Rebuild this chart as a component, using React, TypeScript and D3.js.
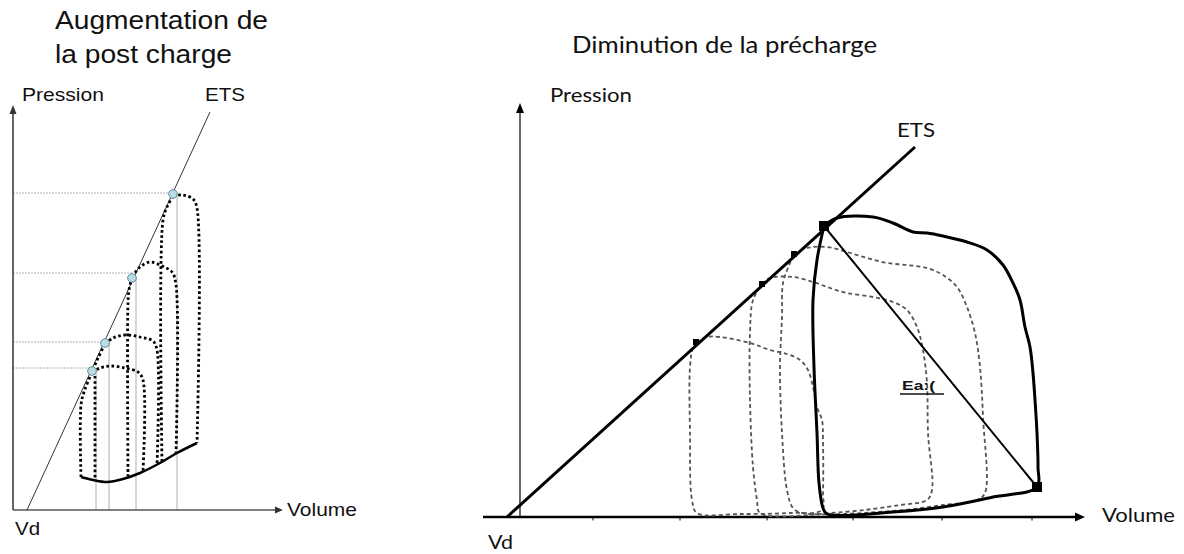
import * as d3 from 'd3';

type Pt = [number, number];

// ---- left panel : augmentation de la post charge ----
const leftEts: Pt[] = [[14, 0], [197, 398]];
const leftEdpvr: Pt[] = [[68, 33], [80, 30], [94, 28], [110, 31], [127, 37], [147, 47], [164, 57], [184, 67]];
const leftEsPoints: Pt[] = [[79, 139], [92, 167], [119, 232], [160, 316]];
const leftGuideV = [83, 96, 123, 164];
const leftGuideP = [142, 168, 237, 317];
const leftLoopSegments: Pt[][] = [
  [[68, 33], [68, 105], [71, 118], [79, 138], [85, 152], [92, 166]],
  [[79, 138], [87, 142], [97, 144], [112, 142], [125, 138], [130, 130], [130, 39]],
  [[82, 134], [82, 30]],
  [[92, 166], [100, 172], [112, 175], [127, 173], [140, 169], [144, 160], [144, 45]],
  [[119, 233], [116, 220], [115, 208], [115, 34]],
  [[119, 233], [127, 243], [137, 248], [149, 244], [159, 238], [163, 225], [163, 56]],
  [[160, 314], [154, 303], [150, 290], [149, 48]],
  [[160, 314], [170, 315], [180, 311], [184, 302], [184, 67]],
];

// ---- right panel : diminution de la précharge ----
const rightEts: Pt[] = [[-13, 0], [395, 370]];
const rightEsPoints: Pt[] = [[176, 175], [242, 233], [274, 263]];
const rightBaseEs: Pt = [304, 291];
const rightBaseEd: Pt = [517, 30];
const rightTicks = [73, 160, 247, 333, 422, 512];
const rightBaseLoop: Pt[] = [
  [304, 291], [317, 299], [353, 300], [373, 294], [393, 285], [407, 284], [423, 281], [447, 275],
  [467, 267], [483, 252], [493, 234], [500, 217], [505, 190], [510, 170], [513, 144], [515, 117],
  [517, 84], [518, 50], [517, 30], [473, 20], [423, 10], [373, 5], [307, 3], [303, 9], [299, 34],
  [297, 84], [294, 150], [293, 217], [297, 257], [304, 291],
];
const rightReducedLoops: Pt[][] = [
  [[176, 175], [187, 180], [200, 180], [230, 174], [250, 167], [267, 163], [280, 157], [288, 147],
   [293, 130], [297, 110], [302, 97], [303, 77], [303, 24], [302, 7], [270, 4], [220, 3], [177, 4],
   [172, 17], [170, 84], [170, 150], [173, 170], [176, 175]],
  [[242, 233], [250, 239], [273, 240], [293, 235], [310, 229], [327, 224], [353, 220], [373, 215],
   [387, 207], [397, 190], [403, 167], [407, 134], [408, 84], [412, 27], [407, 17], [380, 12],
   [323, 5], [240, 4], [237, 17], [233, 50], [230, 117], [230, 184], [233, 217], [242, 233]],
  [[274, 263], [287, 269], [307, 270], [327, 265], [347, 259], [367, 254], [387, 252], [407, 249],
   [423, 242], [437, 230], [447, 210], [455, 184], [460, 150], [463, 100], [465, 24], [457, 17],
   [423, 12], [373, 6], [283, 4], [273, 9], [267, 27], [262, 84], [260, 150], [262, 200],
   [263, 234], [270, 254], [274, 263]],
];

const W = 1184;
const H = 554;

export default function App() {
  const xL = d3.scaleLinear().domain([0, 270]).range([13, 283]);
  const yL = d3.scaleLinear().domain([0, 405]).range([510, 105]);
  const xR = d3.scaleLinear().domain([0, 565]).range([520, 1085]);
  const yR = d3.scaleLinear().domain([0, 414]).range([517, 103]);

  const lineL = d3.line<Pt>().x(d => xL(d[0])).y(d => yL(d[1])).curve(d3.curveCatmullRom.alpha(0.5));
  const straightL = d3.line<Pt>().x(d => xL(d[0])).y(d => yL(d[1]));
  const lineR = d3.line<Pt>().x(d => xR(d[0])).y(d => yR(d[1])).curve(d3.curveCatmullRom.alpha(0.5));
  const straightR = d3.line<Pt>().x(d => xR(d[0])).y(d => yR(d[1]));

  const arial = "'Liberation Sans', Arial, sans-serif";
  const calibri = "Lato, 'Open Sans', sans-serif";

  const x0L = xL(0), y0L = yL(0);
  const x0R = xR(0), y0R = yR(0);

  return (
    <svg width={W} height={H} style={{ position: 'absolute', left: 0, top: 0, background: '#fff' }}>
      {/* ===== left panel ===== */}
      <g>
        <text x={55} y={29} fontFamily={arial} fontSize={25} textLength={213} lengthAdjust="spacingAndGlyphs" fill="#111">Augmentation de</text>
        <text x={55} y={63} fontFamily={arial} fontSize={25} textLength={177} lengthAdjust="spacingAndGlyphs" fill="#111">la post charge</text>

        {/* guides */}
        {leftGuideP.map((p, i) => (
          <line key={'h' + i} x1={x0L} x2={xL(leftEsPoints[i][0])} y1={yL(p)} y2={yL(p)} stroke="#9a9a9a" strokeWidth={0.8} strokeDasharray="2,1" />
        ))}
        {leftGuideV.map((v, i) => (
          <line key={'v' + i} x1={xL(v)} x2={xL(v)} y1={yL(leftEsPoints[i][1])} y2={y0L} stroke="#9a9a9a" strokeWidth={0.8} />
        ))}

        {/* axes */}
        <line x1={x0L} x2={x0L} y1={y0L} y2={yL(400)} stroke="#333" strokeWidth={1.5} />
        <path d={`M${x0L},${yL(405)} l-3.5,9 l7,0 z`} fill="#333" />
        <line x1={x0L} x2={xL(266)} y1={y0L} y2={y0L} stroke="#555" strokeWidth={1.5} />
        <path d={`M${xL(270)},${y0L} l-8,-3.5 l0,7 z`} fill="#333" />

        {/* ETS */}
        <path d={straightL(leftEts) || ''} fill="none" stroke="#333" strokeWidth={1} />

        {/* loops */}
        {leftLoopSegments.map((s, i) => (
          <path key={i} d={lineL(s) || ''} fill="none" stroke="#000" strokeWidth={2.8} strokeDasharray="2.6,2.6" />
        ))}
        <path d={lineL(leftEdpvr) || ''} fill="none" stroke="#000" strokeWidth={2.5} />

        {leftEsPoints.map((p, i) => (
          <circle key={i} cx={xL(p[0])} cy={yL(p[1])} r={4.3} fill="#b9dde4" stroke="#5d8c96" strokeWidth={1} />
        ))}

        <text x={22} y={101} fontFamily={arial} fontSize={19} textLength={82} lengthAdjust="spacingAndGlyphs" fill="#111">Pression</text>
        <text x={205} y={101} fontFamily={arial} fontSize={19} textLength={40} lengthAdjust="spacingAndGlyphs" fill="#111">ETS</text>
        <text x={287} y={516} fontFamily={arial} fontSize={19} textLength={70} lengthAdjust="spacingAndGlyphs" fill="#111">Volume</text>
        <text x={15} y={535} fontFamily={arial} fontSize={19} textLength={25} lengthAdjust="spacingAndGlyphs" fill="#111">Vd</text>
      </g>

      {/* ===== right panel ===== */}
      <g>
        <text x={572} y={53} fontFamily={calibri} fontSize={24} textLength={305} lengthAdjust="spacingAndGlyphs" fill="#111">Diminution de la précharge</text>

        {/* axes */}
        <line x1={x0R} x2={x0R} y1={y0R} y2={yR(405)} stroke="#000" strokeWidth={1.2} />
        <path d={`M${x0R},${yR(414)} l-4,10 l8,0 z`} fill="#000" />
        <line x1={483} x2={xR(556)} y1={y0R} y2={y0R} stroke="#000" strokeWidth={2.5} />
        <path d={`M${xR(565)},${y0R} l-10,-4.5 l0,9 z`} fill="#000" />
        {rightTicks.map((t, i) => (
          <line key={i} x1={xR(t)} x2={xR(t)} y1={y0R} y2={y0R + 3.5} stroke="#000" strokeWidth={1} />
        ))}

        {/* reduced preload loops */}
        {rightReducedLoops.map((l, i) => (
          <path key={i} d={lineR(l) || ''} fill="none" stroke="#555" strokeWidth={1.8} strokeDasharray="4,3" />
        ))}

        {/* ETS */}
        <path d={straightR(rightEts) || ''} fill="none" stroke="#000" strokeWidth={3} />

        {/* baseline loop */}
        <path d={lineR(rightBaseLoop) || ''} fill="none" stroke="#000" strokeWidth={3} strokeLinejoin="round" />
        <path d={straightR([rightBaseEs, rightBaseEd]) || ''} fill="none" stroke="#000" strokeWidth={2} />

        {[rightBaseEs, rightBaseEd].map((p, i) => (
          <rect key={i} x={xR(p[0]) - 5} y={yR(p[1]) - 5} width={10} height={10} fill="#000" />
        ))}
        {rightEsPoints.map((p, i) => (
          <rect key={i} x={xR(p[0]) - 3} y={yR(p[1]) - 3} width={6} height={6} fill="#000" />
        ))}

        <text x={902} y={390} fontFamily={arial} fontSize={13} fontWeight="bold" textLength={33} lengthAdjust="spacingAndGlyphs" fill="#111">Ea:(</text>
        <line x1={900} x2={944} y1={394} y2={394} stroke="#111" strokeWidth={1.5} />

        <text x={550} y={102} fontFamily={calibri} fontSize={20} textLength={82} lengthAdjust="spacingAndGlyphs" fill="#111">Pression</text>
        <text x={897} y={137} fontFamily={calibri} fontSize={20} textLength={38} lengthAdjust="spacingAndGlyphs" fill="#111">ETS</text>
        <text x={1102} y={522} fontFamily={calibri} fontSize={20} textLength={73} lengthAdjust="spacingAndGlyphs" fill="#111">Volume</text>
        <text x={488} y={549} fontFamily={calibri} fontSize={19} textLength={25} lengthAdjust="spacingAndGlyphs" fill="#111">Vd</text>
      </g>
    </svg>
  );
}
